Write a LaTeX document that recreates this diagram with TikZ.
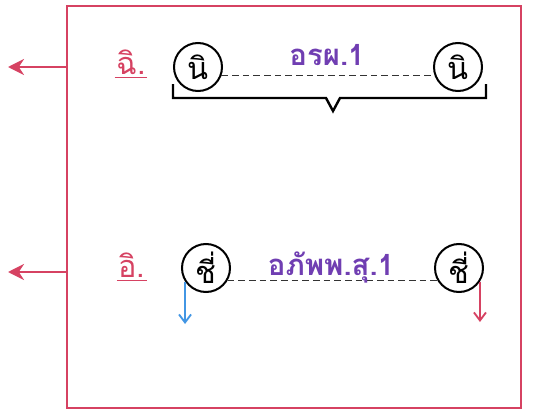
\documentclass[tikz,border=0pt]{standalone}
\usepackage{fontspec}
\newfontfamily\thaifont[Script=Thai]{Loma}
\usetikzlibrary{arrows.meta}
\definecolor{fred}{RGB}{214,66,98}
\definecolor{tpurple}{RGB}{112,62,178}
\definecolor{ablue}{RGB}{66,150,228}
\tikzset{
  letter/.style={circle,draw=black,line width=1.5pt,minimum size=36pt,inner sep=0pt,font=\thaifont\fontsize{23}{23}\selectfont},
  redlabel/.style={text=fred,font=\thaifont\fontsize{23}{23}\selectfont,inner sep=1pt},
  purplelabel/.style={text=tpurple,font=\thaifont\bfseries\fontsize{22}{22}\selectfont,inner sep=1pt},
  dashline/.style={dashed,dash pattern=on 5pt off 3pt,line width=0.7pt,black!80},
  outarrow/.style={fred,line width=1.8pt,-{Stealth[length=12pt,width=12pt]}},
  downarrow/.style={line width=1.4pt,-{Straight Barb[length=6pt,width=9pt]}},
}
\begin{document}
\begin{tikzpicture}[x=0.75pt,y=-0.75pt]
\useasboundingbox (0,0) rectangle (550,414);
% frame
\draw[fred,line width=1.5pt] (67,6) rectangle (521,408);
\coordinate (ft) at (67,67);
\coordinate (fb) at (67,272);
\coordinate (tt) at (8,67);
\coordinate (tb) at (8,272);
\draw[outarrow] (ft) -- (tt);
\draw[outarrow] (fb) -- (tb);
% top row
\node[redlabel] (l1) at (131,62) {ฉิ.};
\draw[fred,line width=1pt] ([yshift=-1pt]l1.south west) -- ([yshift=-1pt]l1.south east);
\node[letter] (a) at (198,67) {นิ};
\node[letter] (b) at (458,67) {นิ};
\draw[dashline] (a.-20) -- (b.200);
\node[purplelabel] (t1) at (327,55) {อรผ.1};
% bracket
\coordinate (bl) at (173,84);
\coordinate (br) at (486,84);
\draw[black,line width=1.8pt,line join=miter]
  (bl) -- (173,98) -- (326,98) -- (333,111) -- (340,98) -- (486,98) -- (br);
% bottom row
\node[redlabel] (l2) at (132,265) {อิ.};
\draw[fred,line width=1pt] ([yshift=-1pt]l2.south west) -- ([yshift=-1pt]l2.south east);
\node[letter] (c) at (206,268) {ชี่};
\node[letter] (d) at (459,268) {ชี่};
\draw[dashline] (c.-30) -- (d.210);
\node[purplelabel] (t2) at (331,267) {อภัพพ.สุ.1};
\coordinate (ce) at (181,324);
\coordinate (de) at (484,322);
\draw[downarrow,ablue] (c.213) -- (c.213 |- ce);
\draw[downarrow,fred] (d.-33) -- (d.-33 |- de);
\end{tikzpicture}
\end{document}
